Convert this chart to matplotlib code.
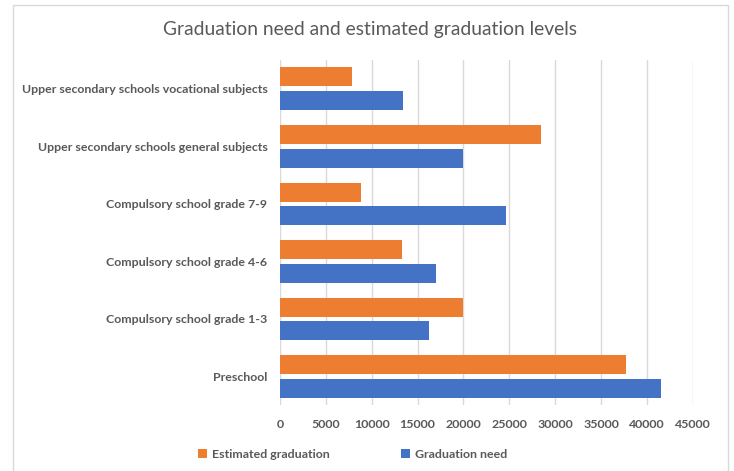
import matplotlib.pyplot as plt
from matplotlib.patches import Rectangle
import numpy as np

plt.rcParams['font.family'] = ['Lato', 'DejaVu Sans']

# Categories listed bottom to top
categories = ['Preschool', 'Compulsory school grade 1-3', 'Compulsory school grade 4-6',
              'Compulsory school grade 7-9', 'Upper secondary schools general subjects',
              'Upper secondary schools vocational subjects']
estimated_graduation = [37700, 20000, 13300, 8800, 28500, 7900]
graduation_need = [41500, 16300, 17000, 24600, 20000, 13400]
x_ticks = list(range(0, 45001, 5000))

orange = '#ED7D31'
blue = '#4472C4'
text_grey = '#595959'

W, H = 734, 471
fig = plt.figure(figsize=(W / 100, H / 100), dpi=100)

# light frame around the chart
fig.patches.append(Rectangle((13 / W, -0.05), (728 - 13) / W, 1.05 - 5 / H,
                             transform=fig.transFigure, fill=False,
                             edgecolor='#D9D9D9', linewidth=1))

ax = fig.add_axes([280 / W, 1 - 405.3 / H, (692.7 - 280) / W, (405.3 - 59.9) / H])

y = np.arange(len(categories))
bar_h = 0.33
off = 0.205
ax.barh(y + off, estimated_graduation, height=bar_h, color=orange, label='Estimated graduation', zorder=3)
ax.barh(y - off, graduation_need, height=bar_h, color=blue, label='Graduation need', zorder=3)

ax.set_xlim(0, 45000)
ax.set_ylim(-0.5, len(categories) - 0.5)
ax.set_xticks(x_ticks)
ax.set_xticklabels([str(t) for t in x_ticks], fontsize=8.9, fontweight='bold', color=text_grey)
ax.set_yticks(y)
ax.set_yticklabels(categories, fontsize=8.9, fontweight='bold', color=text_grey)
ax.tick_params(axis='both', length=0)
ax.tick_params(axis='x', pad=10)
ax.tick_params(axis='y', pad=9)
ax.grid(axis='x', color='#D9D9D9', linewidth=1, zorder=0)
for s in ax.spines.values():
    s.set_visible(False)

fig.text(370 / W, 1 - 30 / H, 'Graduation need and estimated graduation levels',
         ha='center', va='center', fontsize=13.9, color=text_grey)

fig.legend(loc='center left', bbox_to_anchor=(193 / W, 1 - 454 / H), ncol=2,
           frameon=False, handlelength=0.7, handleheight=0.7,
           columnspacing=5.8, handletextpad=0.4, borderaxespad=0,
           prop={'weight': 'bold', 'size': 8.9})
for t in fig.legends[0].get_texts():
    t.set_color(text_grey)

fig.savefig('out.png', dpi=100)
